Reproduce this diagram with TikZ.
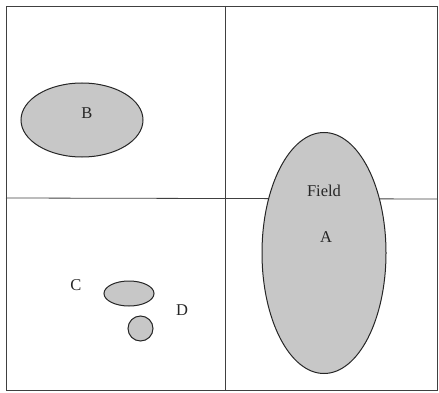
\documentclass[tikz,border=0pt]{standalone}
\usepackage{fontspec}
\setmainfont{Liberation Serif}
\usetikzlibrary{shapes.geometric}

\begin{document}
\begin{tikzpicture}[
      x=1pt, y=-1pt,
      every node/.style={font=\fontsize{16.5}{18}\selectfont, text=black!85},
      blob/.style={ellipse, draw=black!85, fill=black!22, line width=1pt, inner sep=0pt},
      grid/.style={draw=black!75, line width=0.8pt}
    ]
      \useasboundingbox (0,0) rectangle (439,393);
      % frame and quadrants
      \coordinate (tl) at (6,6);
      \coordinate (br) at (437,390);
      \coordinate (top) at (225,6);
      \coordinate (bot) at (225,390);
      \coordinate (lft) at (6,198);
      \coordinate (rgt) at (437,199);
      \draw[grid] (tl) rectangle (br);
      \draw[grid] (top) -- (bot);
      \draw[grid] (lft) -- (rgt);
      % fields
      \node[blob, minimum width=122pt, minimum height=74pt] (B) at (82,120) {};
      \node[blob, minimum width=124pt, minimum height=241pt] (A) at (324,253) {};
      \node[blob, minimum width=50pt, minimum height=25pt] (C) at (129,293.5) {};
      \node[blob, circle, minimum size=25pt] (D) at (140.5,328.5) {};
      % labels
      \node (lB) at (87,113) {B};
      \node (lfield) at (324,191) {Field};
      \node (lA) at (326,237) {A};
      \node (lC) at (76,285) {C};
      \node (lD) at (182,310) {D};
    \end{tikzpicture}
\end{document}
